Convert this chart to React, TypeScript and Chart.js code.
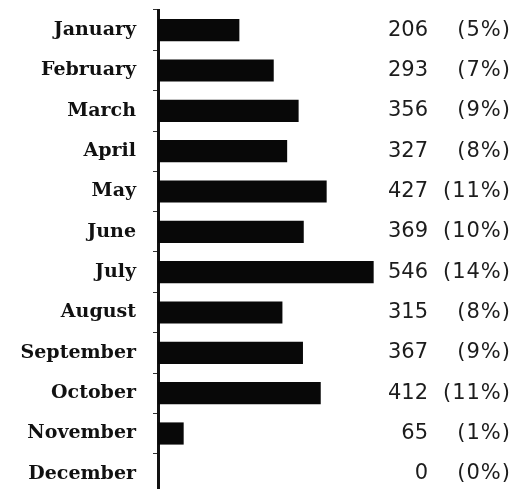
import { useEffect, useRef } from "react";
import { Chart, registerables } from "chart.js";

Chart.register(...registerables);

const months = [
  "January", "February", "March", "April", "May", "June",
  "July", "August", "September", "October", "November", "December",
];
const counts = [206, 293, 356, 327, 427, 369, 546, 315, 367, 412, 65, 0];
const percentLabels = [
  "(5%)", "(7%)", "(9%)", "(8%)", "(11%)", "(10%)",
  "(14%)", "(8%)", "(9%)", "(11%)", "(1%)", "(0%)",
];

export default function App() {
  const ref = useRef<HTMLCanvasElement>(null);

  useEffect(() => {
    const canvas = ref.current;
    if (!canvas) return;

    const valueLabels = {
      id: "valueLabels",
      afterDatasetsDraw(chart: any) {
        const ctx = chart.ctx;
        const meta = chart.getDatasetMeta(0);
        ctx.save();
        ctx.fillStyle = "#1c1c1c";
        ctx.textBaseline = "middle";
        ctx.textAlign = "right";
        ctx.font = "21px 'DejaVu Sans'";
        meta.data.forEach((el: any, i: number) => {
          ctx.letterSpacing = "0px";
          ctx.fillText(String(counts[i]), 428, el.y);
          ctx.letterSpacing = "1px";
          ctx.fillText(percentLabels[i], 511, el.y);
        });
        ctx.restore();
      },
    };

    const chart = new Chart(canvas, {
      type: "bar",
      data: {
        labels: months,
        datasets: [
          {
            data: counts,
            backgroundColor: "#080808",
            borderWidth: 0,
            barPercentage: 0.55,
            categoryPercentage: 1,
          },
        ],
      },
      plugins: [valueLabels],
      options: {
        indexAxis: "y",
        animation: false,
        responsive: false,
        devicePixelRatio: 1,
        layout: { padding: { top: 10, bottom: 6, right: 125, left: 0 } },
        plugins: {
          legend: { display: false },
          tooltip: { enabled: false },
        },
        scales: {
          x: {
            display: false,
            min: 0,
            max: 600,
          },
          y: {
            afterFit(scale: any) {
              scale.width = 158;
              scale.paddingTop = 0;
              scale.paddingBottom = 0;
            },
            border: { display: true, color: "#111", width: 3 },
            grid: {
              display: true,
              drawOnChartArea: false,
              drawTicks: true,
              tickLength: 5,
              color: "#333",
              lineWidth: 1,
            },
            ticks: {
              padding: 17,
              color: "#111",
              font: { family: "'DejaVu Serif'", size: 19, weight: "bold" },
            },
          },
        },
      },
    });

    return () => chart.destroy();
  }, []);

  return (
    <div
      style={{
        position: "fixed",
        left: 0,
        top: 0,
        width: 520,
        height: 500,
        background: "#fff",
      }}
    >
      <canvas ref={ref} width={520} height={500} />
    </div>
  );
}
